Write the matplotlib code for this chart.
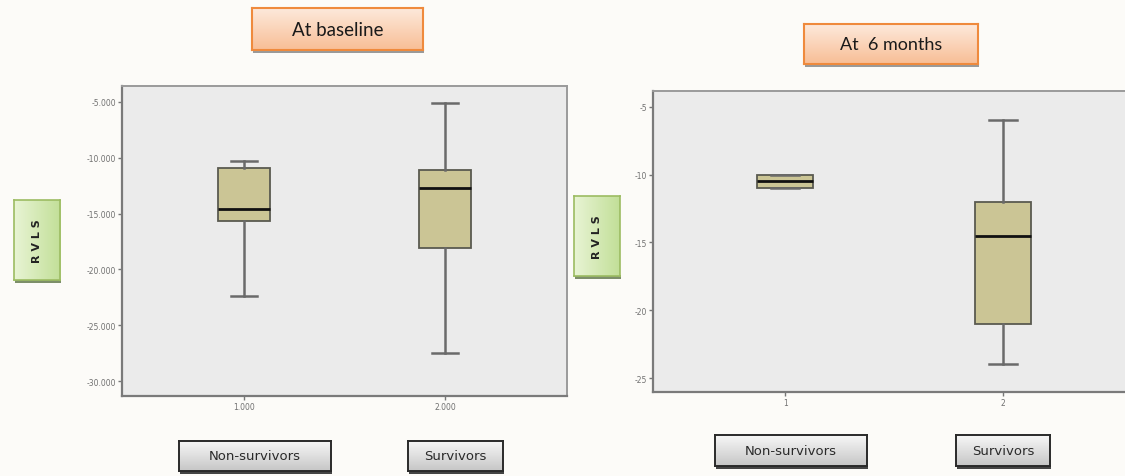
import numpy as np
import matplotlib
matplotlib.use("Agg")
import matplotlib.pyplot as plt
from matplotlib.colors import LinearSegmentedColormap
from matplotlib.patches import Rectangle

# data (RVLS box stats: low whisker, Q1, median, Q3, high whisker)
groups = ["Non-survivors", "Survivors"]
baseline_ticks = ["1.000", "2.000"]
baseline_whislo = [-22.4, -27.5]
baseline_q1 = [-15.7, -18.1]
baseline_med = [-14.6, -12.7]
baseline_q3 = [-10.9, -11.1]
baseline_whishi = [-10.3, -5.1]

m6_ticks = ["1", "2"]
m6_whislo = [-11.0, -24.0]
m6_q1 = [-11.0, -21.0]
m6_med = [-10.5, -14.5]
m6_q3 = [-10.0, -12.0]
m6_whishi = [-10.0, -6.0]

W, H = 1125, 477
fig = plt.figure(figsize=(W / 100, H / 100), dpi=100)
fig.patch.set_facecolor("#fcfbf8")


def px_axes(x0, y0, x1, y1):
    # pixel box (top-left origin) -> axes
    return fig.add_axes([x0 / W, 1 - y1 / H, (x1 - x0) / W, (y1 - y0) / H])


def make_stats(lo, q1, med, q3, hi):
    return [dict(whislo=lo[i], q1=q1[i], med=med[i], q3=q3[i], whishi=hi[i], fliers=[])
            for i in range(len(lo))]


def box_panel(ax, stats, ticks, yticks, ylim, fmt):
    ax.set_facecolor("#ebebeb")
    ax.bxp(stats, positions=[1, 2], widths=0.26, capwidths=0.13, patch_artist=True,
           showfliers=False,
           boxprops=dict(facecolor="#cbc595", edgecolor="#5a5a50", linewidth=1.3),
           medianprops=dict(color="#111111", linewidth=2.0),
           whiskerprops=dict(color="#6a6a6a", linewidth=1.8),
           capprops=dict(color="#6a6a6a", linewidth=1.8))
    ax.set_xlim(0.393, 2.607)
    ax.set_ylim(*ylim)
    ax.set_xticks([1, 2])
    ax.set_xticklabels(ticks)
    ax.set_yticks(yticks)
    ax.set_yticklabels([fmt.format(v) for v in yticks])
    ax.tick_params(labelsize=5.5, colors="#777777", labelcolor="#707070",
                   length=3, width=1, pad=1.5)
    for s in ["left", "bottom"]:
        ax.spines[s].set_color("#7a7a7a")
        ax.spines[s].set_linewidth(1.6)
    for s in ["top", "right"]:
        ax.spines[s].set_color("#9a9a9a")
        ax.spines[s].set_linewidth(1.4)


ax1 = px_axes(122, 87, 567, 397)
box_panel(ax1, make_stats(baseline_whislo, baseline_q1, baseline_med, baseline_q3, baseline_whishi),
          baseline_ticks, [-5, -10, -15, -20, -25, -30], (-31.34, -3.57), "{:.3f}")

ax2 = px_axes(653, 92, 1135, 393)
box_panel(ax2, make_stats(m6_whislo, m6_q1, m6_med, m6_q3, m6_whishi),
          m6_ticks, [-5, -10, -15, -20, -25], (-26.03, -3.84), "{:.0f}")


def label_box(x0, y0, x1, y1, text, c_top, c_bot, edge, size, weight="normal",
              rotation=0, family="DejaVu Sans", tcolor="#222222", shadow="#8a8a8a",
              elw=1.2, horizontal=False):
    fig.patches.append(Rectangle(((x0 + 1) / W, 1 - (y1 + 3) / H), (x1 - x0) / W, 4 / H,
                                 transform=fig.transFigure, facecolor=shadow,
                                 edgecolor="none", zorder=-1))
    ax = px_axes(x0, y0, x1, y1)
    grad = np.linspace(0, 1, 64)
    grad = grad[None, :] if horizontal else grad[:, None]
    cmap = LinearSegmentedColormap.from_list("g", [c_top, c_bot])
    ax.imshow(grad, aspect="auto", cmap=cmap, extent=[0, 1, 0, 1], origin="upper")
    ax.set_xticks([])
    ax.set_yticks([])
    for s in ax.spines.values():
        s.set_color(edge)
        s.set_linewidth(elw)
    ax.text(0.5, 0.5, text, ha="center", va="center", fontsize=size, color=tcolor,
            fontweight=weight, rotation=rotation, family=family, transform=ax.transAxes)
    return ax


# titles
label_box(252, 9, 423, 51, "At baseline", "#fde9db", "#f8be96", "#ef8a3d", 13.5,
          family="Lato", tcolor="#1a1a1a", shadow="#9a9a9a", elw=1.5)
label_box(804, 25, 978, 65, "At  6 months", "#fde9db", "#f8be96", "#ef8a3d", 13,
          family="Lato", tcolor="#1a1a1a", shadow="#9a9a9a", elw=1.5)

# y labels
label_box(14, 201, 60, 281, "R V L S", "#e8f4d4", "#c2df98", "#9cbc62", 8, weight="bold",
          rotation=90, horizontal=True, shadow="#7d8f6a")
label_box(574, 197, 620, 277, "R V L S", "#e8f4d4", "#c2df98", "#9cbc62", 8, weight="bold",
          rotation=90, horizontal=True, shadow="#7d8f6a")

# group buttons
for (x0, y0, x1, y1), name in zip([(179, 442, 331, 472), (408, 442, 503, 472)], groups):
    label_box(x0, y0, x1, y1, name, "#f7f7f7", "#c6c6c6", "#2a2a2a", 9.5,
              tcolor="#2a2a2a", shadow="#444444", elw=1.4)
for (x0, y0, x1, y1), name in zip([(715, 436, 867, 467), (956, 436, 1050, 467)], groups):
    label_box(x0, y0, x1, y1, name, "#f7f7f7", "#c6c6c6", "#2a2a2a", 9.5,
              tcolor="#2a2a2a", shadow="#444444", elw=1.4)

fig.savefig("out.png", dpi=100, facecolor=fig.get_facecolor())
